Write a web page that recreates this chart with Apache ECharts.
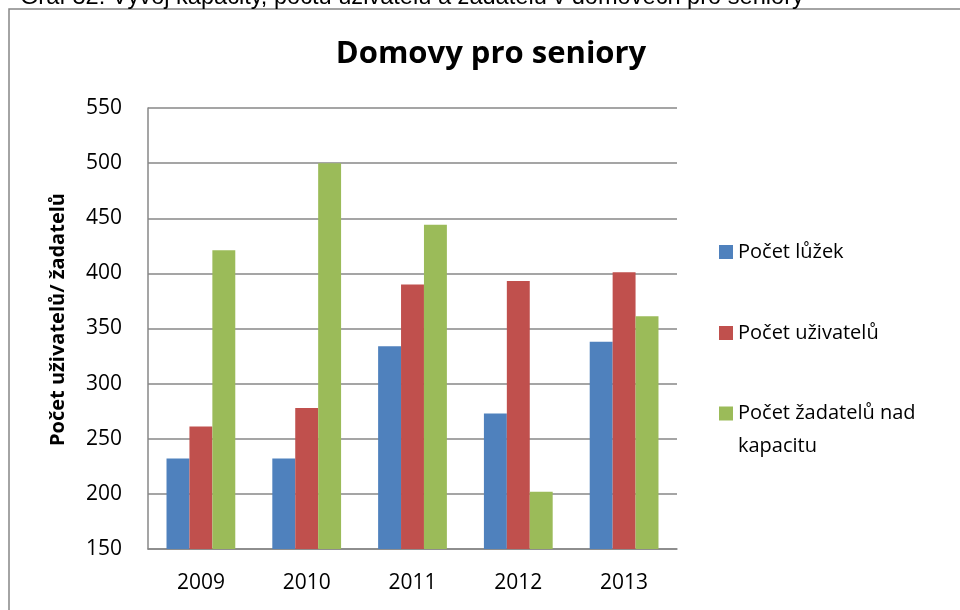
<!DOCTYPE html>
<html>
<head>
<meta charset="utf-8">
<script src="https://cdn.jsdelivr.net/npm/echarts@6/dist/echarts.min.js"></script>
<style>
    html, body { margin: 0; padding: 0; background: #fff; }
    #chart { width: 960px; height: 610px; }
</style>
</head>
<body>
<div id="chart"></div>
<script>
    // data
    var years = ['2009', '2010', '2011', '2012', '2013'];
    var luzka = [232, 232, 334, 273, 338];
    var uzivatele = [261, 278, 390, 393, 401];
    var zadatele = [421, 500, 444, 202, 361];
    var seriesNames = ['Počet lůžek', 'Počet uživatelů', 'Počet žadatelů nad kapacitu'];
    var colors = ['#4F81BD', '#C0504D', '#9BBB59'];

    var font = '"Open Sans", sans-serif';
    var chart = echarts.init(document.getElementById('chart'));

    chart.setOption({
        animation: false,
        color: colors,
        title: {
            text: 'Domovy pro seniory',
            left: 491,
            top: 39,
            padding: 0,
            textAlign: 'center',
            textStyle: {
                fontFamily: font,
                fontWeight: 'bold',
                fontSize: 31,
                color: '#000'
            }
        },
        graphic: [
            {
                type: 'rect',
                shape: { x: 9, y: 9, width: 1000, height: 700 },
                style: { fill: 'none', stroke: '#878787', lineWidth: 1.5 },
                z: -1
            },
            {
                type: 'text',
                x: 20,
                y: -2.5,
                style: {
                    text: 'Graf 32: Vývoj kapacity, počtu uživatelů a žadatelů v domovech pro seniory',
                    fontFamily: '"Liberation Sans", Arial, sans-serif',
                    fontSize: 23.6,
                    fill: '#000',
                    verticalAlign: 'middle'
                }
            }
        ],
        legend: [
            {
                orient: 'vertical',
                left: 719,
                top: 240,
                padding: 0,
                itemWidth: 14,
                itemHeight: 14,
                itemGap: 57,
                icon: 'rect',
                selectedMode: false,
                data: [seriesNames[0], seriesNames[1]],
                textStyle: { fontFamily: font, fontSize: 20, color: '#000', lineHeight: 24 }
            },
            {
                // taller icon box so the square sits beside the first text line
                orient: 'vertical',
                left: 719,
                top: 397,
                padding: 0,
                itemWidth: 14,
                itemHeight: 47,
                icon: 'path://M0,0L14,0L14,14L0,14Z M0,47',
                selectedMode: false,
                data: [seriesNames[2]],
                formatter: function (name) {
                    return 'Počet žadatelů nad\nkapacitu';
                },
                textStyle: { fontFamily: font, fontSize: 20, color: '#000', lineHeight: 33 }
            }
        ],
        grid: {
            left: 148,
            right: 283,
            top: 108,
            bottom: 61
        },
        xAxis: {
            type: 'category',
            data: years,
            axisLine: { lineStyle: { color: '#878787', width: 1.5 } },
            axisTick: { show: false },
            axisLabel: {
                fontFamily: font,
                fontSize: 21,
                color: '#000',
                margin: 24
            }
        },
        yAxis: {
            type: 'value',
            min: 150,
            max: 550,
            interval: 50,
            name: 'Počet uživatelů/ žadatelů',
            nameLocation: 'middle',
            nameGap: 80,
            nameTextStyle: {
                fontFamily: font,
                fontSize: 20,
                fontWeight: 'bold',
                color: '#000',
                padding: [0, 0, 0, 18]
            },
            axisLine: { show: true, lineStyle: { color: '#878787', width: 1.5 } },
            axisTick: { show: false },
            splitLine: { lineStyle: { color: '#878787', width: 1.5 } },
            axisLabel: {
                fontFamily: font,
                fontSize: 21,
                color: '#000',
                margin: 26
            }
        },
        series: [
            {
                name: seriesNames[0],
                type: 'bar',
                data: luzka,
                barGap: '0%',
                barCategoryGap: '35%'
            },
            {
                name: seriesNames[1],
                type: 'bar',
                data: uzivatele
            },
            {
                name: seriesNames[2],
                type: 'bar',
                data: zadatele
            }
        ]
    });
</script>
</body>
</html>
